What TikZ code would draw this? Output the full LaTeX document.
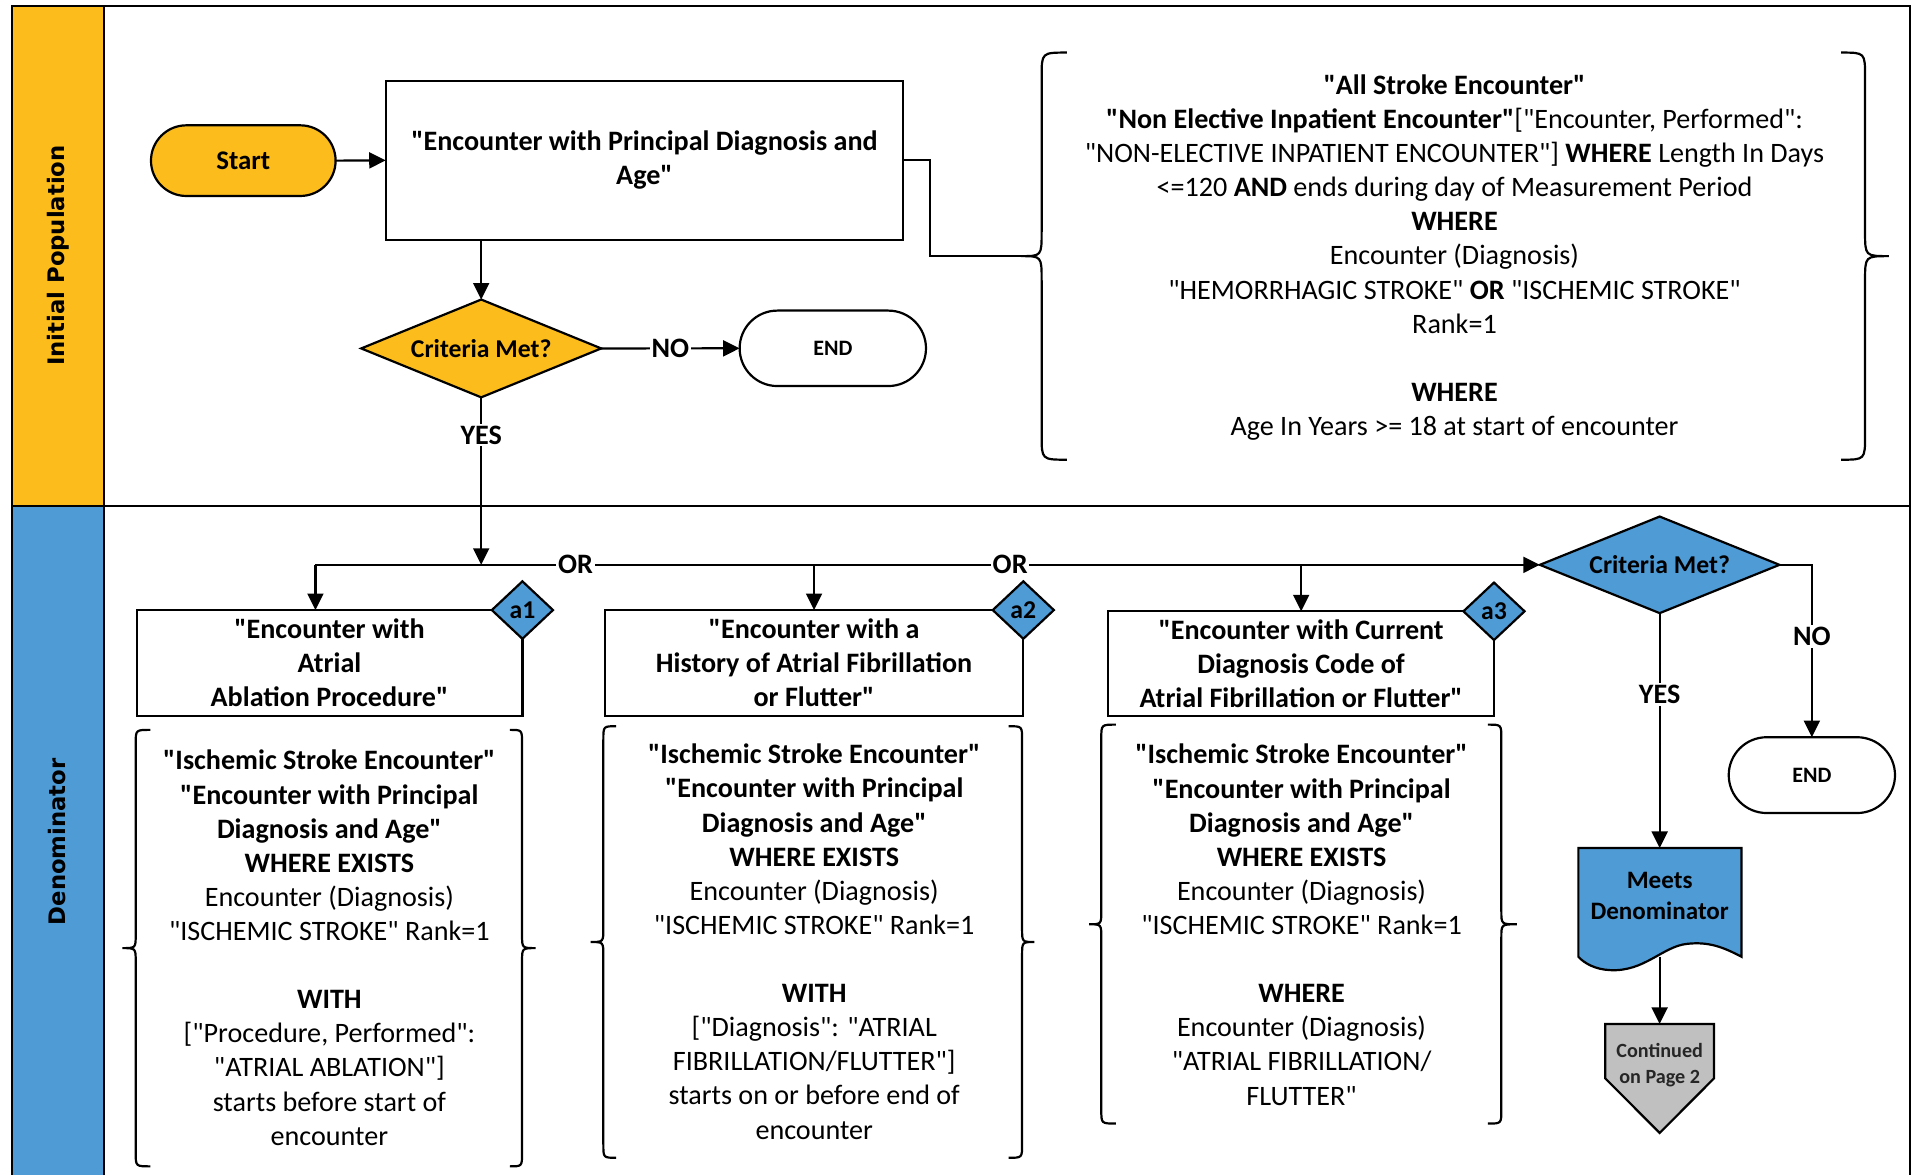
\documentclass[tikz,border=0pt]{standalone}
\usepackage{fontspec}
\setmainfont{Carlito}[Ligatures=TeXOff]
\newfontfamily\lanefont{DejaVu Sans}
\usetikzlibrary{shapes.geometric,arrows.meta}
\definecolor{ipyellow}{HTML}{FBBC1C}
\definecolor{denblue}{HTML}{4E9BD6}
\definecolor{congray}{HTML}{C0C0C0}
\newcommand\leftbrc[7]{%
  \draw (#1+#6,#2) .. controls (#1,#2) .. (#1,#2+#7) -- (#1,#4-#7)
    .. controls (#1,#4) .. (#1-#5,#4) .. controls (#1,#4) .. (#1,#4+#7)
    -- (#1,#3-#7) .. controls (#1,#3) .. (#1+#6,#3);}
\newcommand\rightbrc[7]{%
  \draw (#1-#6,#2) .. controls (#1,#2) .. (#1,#2+#7) -- (#1,#4-#7)
    .. controls (#1,#4) .. (#1+#5,#4) .. controls (#1,#4) .. (#1,#4+#7)
    -- (#1,#3-#7) .. controls (#1,#3) .. (#1-#6,#3);}
\begin{document}
\begin{tikzpicture}[x=1pt,y=-1pt,line width=1.8pt,
  every node/.style={inner sep=0pt,outer sep=0pt},
  arr/.style={-{Triangle[length=13.5pt,width=13pt]}},
  txt/.style={align=center,font=\fontsize{23}{27.9}\selectfont},
  boxnode/.style={draw,fill=white,rectangle,align=center,font=\fontsize{23}{27.7}\selectfont\bfseries},
  stadium/.style={draw,rectangle,rounded corners=#1,align=center},
  decision/.style={diamond,draw,aspect=2.45,font=\fontsize{21}{21}\selectfont\bfseries},
  tag/.style={diamond,draw,fill=denblue,aspect=1.06,minimum width=50pt,minimum height=47pt,font=\fontsize{21}{21}\selectfont\bfseries},
  lbl/.style={fill=white,inner sep=1.5pt,font=\fontsize{23}{23}\selectfont\bfseries},
  lanelbl/.style={rotate=90,font=\lanefont\bfseries\fontsize{18.6}{20}\selectfont}]
\useasboundingbox (0,0) rectangle (1568,961);
\clip (0,0) rectangle (1568,961);
% lanes
\fill[ipyellow] (9.5,5) rectangle (85,413.6);
\fill[denblue] (9.5,413.6) rectangle (85,975);
\draw (9.5,5) rectangle (1562.5,975);
\draw (85,5) -- (85,975);
\draw (9.5,413.6) -- (1562.5,413.6);
\node[lanelbl] (lane1) at (47.5,209) {Initial Population};
\node[lanelbl] (lane2) at (47,688.5) {Denominator};

% top lane
\node[stadium=28.9pt,fill=ipyellow,minimum width=151pt,minimum height=57.8pt,font=\fontsize{22}{22}\selectfont\bfseries] (start) at (199,131.4) {Start};
\node[boxnode,minimum width=423.3pt,minimum height=130.3pt] (ipbox) at (527.15,131.15) {"Encounter with Principal Diagnosis and\\Age"};
\node[decision,fill=ipyellow,minimum width=196.3pt,minimum height=80pt] (crit1) at (393.6,285) {Criteria Met?};
\node[stadium=30.8pt,fill=white,minimum width=152.4pt,minimum height=61.7pt,font=\fontsize{18}{18}\selectfont\bfseries] (end1) at (681.2,284.9) {END};

\leftbrc{852}{43}{376}{209.5}{17}{20.7}{20}
\rightbrc{1525.5}{43}{376}{209.5}{19.5}{19.5}{20}
\coordinate (bracetip) at (835,209.5);
\node[txt] (toptxt) at (1189.7,210.6) {\textbf{"All Stroke Encounter"}\\
\textbf{"Non Elective Inpatient Encounter"}["Encounter, Performed":\\
"NON-ELECTIVE INPATIENT ENCOUNTER"] \textbf{WHERE} Length In Days\\
<=120 \textbf{AND} ends during day of Measurement Period\\
\textbf{WHERE}\\
Encounter (Diagnosis)\\
"HEMORRHAGIC STROKE" \textbf{OR} "ISCHEMIC STROKE"\\
Rank=1\\[27.9pt]
\textbf{WHERE}\\
Age In Years >= 18 at start of encounter};

% denominator lane
\node[boxnode,minimum width=315.5pt,minimum height=86.7pt] (a1box) at (269.55,542.35) {"Encounter with\\Atrial\\Ablation Procedure"};
\node[boxnode,minimum width=342.3pt,minimum height=86.5pt] (a2box) at (665.85,542.25) {"Encounter with a\\History of Atrial Fibrillation\\or Flutter"};
\node[boxnode,minimum width=315.5pt,minimum height=85.6pt] (a3box) at (1064.25,542.8) {"Encounter with Current\\Diagnosis Code of\\Atrial Fibrillation or Flutter"};
\node[tag] (a1) at (a1box.north east) {a1};
\node[tag] (a2) at (a2box.north east) {a2};
\node[tag] (a3) at (a3box.north east) {a3};

\leftbrc{111}{597}{954}{775.5}{11}{12}{11}
\rightbrc{427}{597}{954}{775.5}{11}{10}{11}
\leftbrc{493.5}{594}{947}{770.5}{10.5}{10.5}{11}
\rightbrc{836}{594}{947}{770.5}{10}{11}{11}
\leftbrc{900.8}{592.7}{919}{756}{10}{12}{11}
\rightbrc{1228}{592.7}{919}{756}{12.6}{11}{11}

\node[txt] (b1txt) at (269.4,775.2) {\textbf{"Ischemic Stroke Encounter"}\\
\textbf{"Encounter with Principal}\\
\textbf{Diagnosis and Age"}\\
\textbf{WHERE EXISTS}\\
Encounter (Diagnosis)\\
"ISCHEMIC STROKE" Rank=1\\[27.9pt]
\textbf{WITH}\\{}["Procedure, Performed":\\
"ATRIAL ABLATION"]\\
starts before start of\\
encounter};
\node[txt] (b2txt) at (666,770.25) {\textbf{"Ischemic Stroke Encounter"}\\
\textbf{"Encounter with Principal}\\
\textbf{Diagnosis and Age"}\\
\textbf{WHERE EXISTS}\\
Encounter (Diagnosis)\\
"ISCHEMIC STROKE" Rank=1\\[27.9pt]
\textbf{WITH}\\{}["Diagnosis": "ATRIAL\\
FIBRILLATION/FLUTTER"]\\
starts on or before end of\\
encounter};
\node[txt] (b3txt) at (1064.6,756.35) {\textbf{"Ischemic Stroke Encounter"}\\
\textbf{"Encounter with Principal}\\
\textbf{Diagnosis and Age"}\\
\textbf{WHERE EXISTS}\\
Encounter (Diagnosis)\\
"ISCHEMIC STROKE" Rank=1\\[27.9pt]
\textbf{WHERE}\\
Encounter (Diagnosis)\\
"ATRIAL FIBRILLATION/\\
FLUTTER"};

\node[decision,fill=denblue,minimum width=196pt,minimum height=79pt] (crit2) at (1357.5,462) {Criteria Met?};
\node[stadium=31pt,fill=white,minimum width=136pt,minimum height=62pt,font=\fontsize{18}{18}\selectfont\bfseries] (end2) at (1482,634) {END};

% document shape
\path[draw,fill=denblue] (1291,693.6) -- (1424.5,693.6) -- (1424.5,782.6)
  .. controls (1410,775) and (1398,770) .. (1380,772)
  .. controls (1360,774) and (1345,795) .. (1317,793.5)
  .. controls (1305,793) and (1296,788) .. (1291,782.6) -- cycle;
\node[minimum width=133pt,minimum height=89pt] (meets) at (1357.5,738.1) {};
\node[align=center,font=\fontsize{20.5}{25.5}\selectfont\bfseries] (meetstxt) at (1357.5,733) {Meets\\Denominator};
% off-page connector
\path[draw,fill=congray] (1313,837.5) -- (1402,837.5) -- (1402,882) -- (1357.5,926.7) -- (1313,882) -- cycle;
\node[minimum width=89pt,minimum height=89.2pt] (cont) at (1357.5,882.1) {};
\node[align=center,font=\fontsize{16.5}{21}\selectfont\bfseries,text=black!85] (conttxt) at (1357.5,871) {Continued\\on Page 2};

% connectors
\draw[arr] (start.east) -- (ipbox.west);
\draw[arr] (crit1.north |- ipbox.south) -- (crit1.north);
\draw (ipbox.east) -- ++(21.6,0) |- (bracetip);
\draw[arr] (crit1.east) -- node[lbl]{NO} (end1.west);
\coordinate (j0) at (393.6,462);
\draw[arr] (crit1.south) -- node[lbl,pos=0.225]{YES} (j0);
\coordinate (jL) at (258,462);
\draw[arr] (jL) -- node[lbl,pos=0.2125]{OR} node[lbl,pos=0.5674]{OR} (crit2.west);
\draw[arr] (jL) -- (jL |- a1box.north);
\draw[arr] (a2box.north |- jL) -- (a2box.north);
\draw[arr] (a3box.north |- jL) -- (a3box.north);
\draw[arr] (crit2.east) -| node[lbl,pos=0.7076]{NO} (end2.north);
\draw[arr] (crit2.south) -- node[lbl,pos=0.347]{YES} (meets.north);
\draw[arr] (meets.south) -- (cont.north);
\end{tikzpicture}
\end{document}
